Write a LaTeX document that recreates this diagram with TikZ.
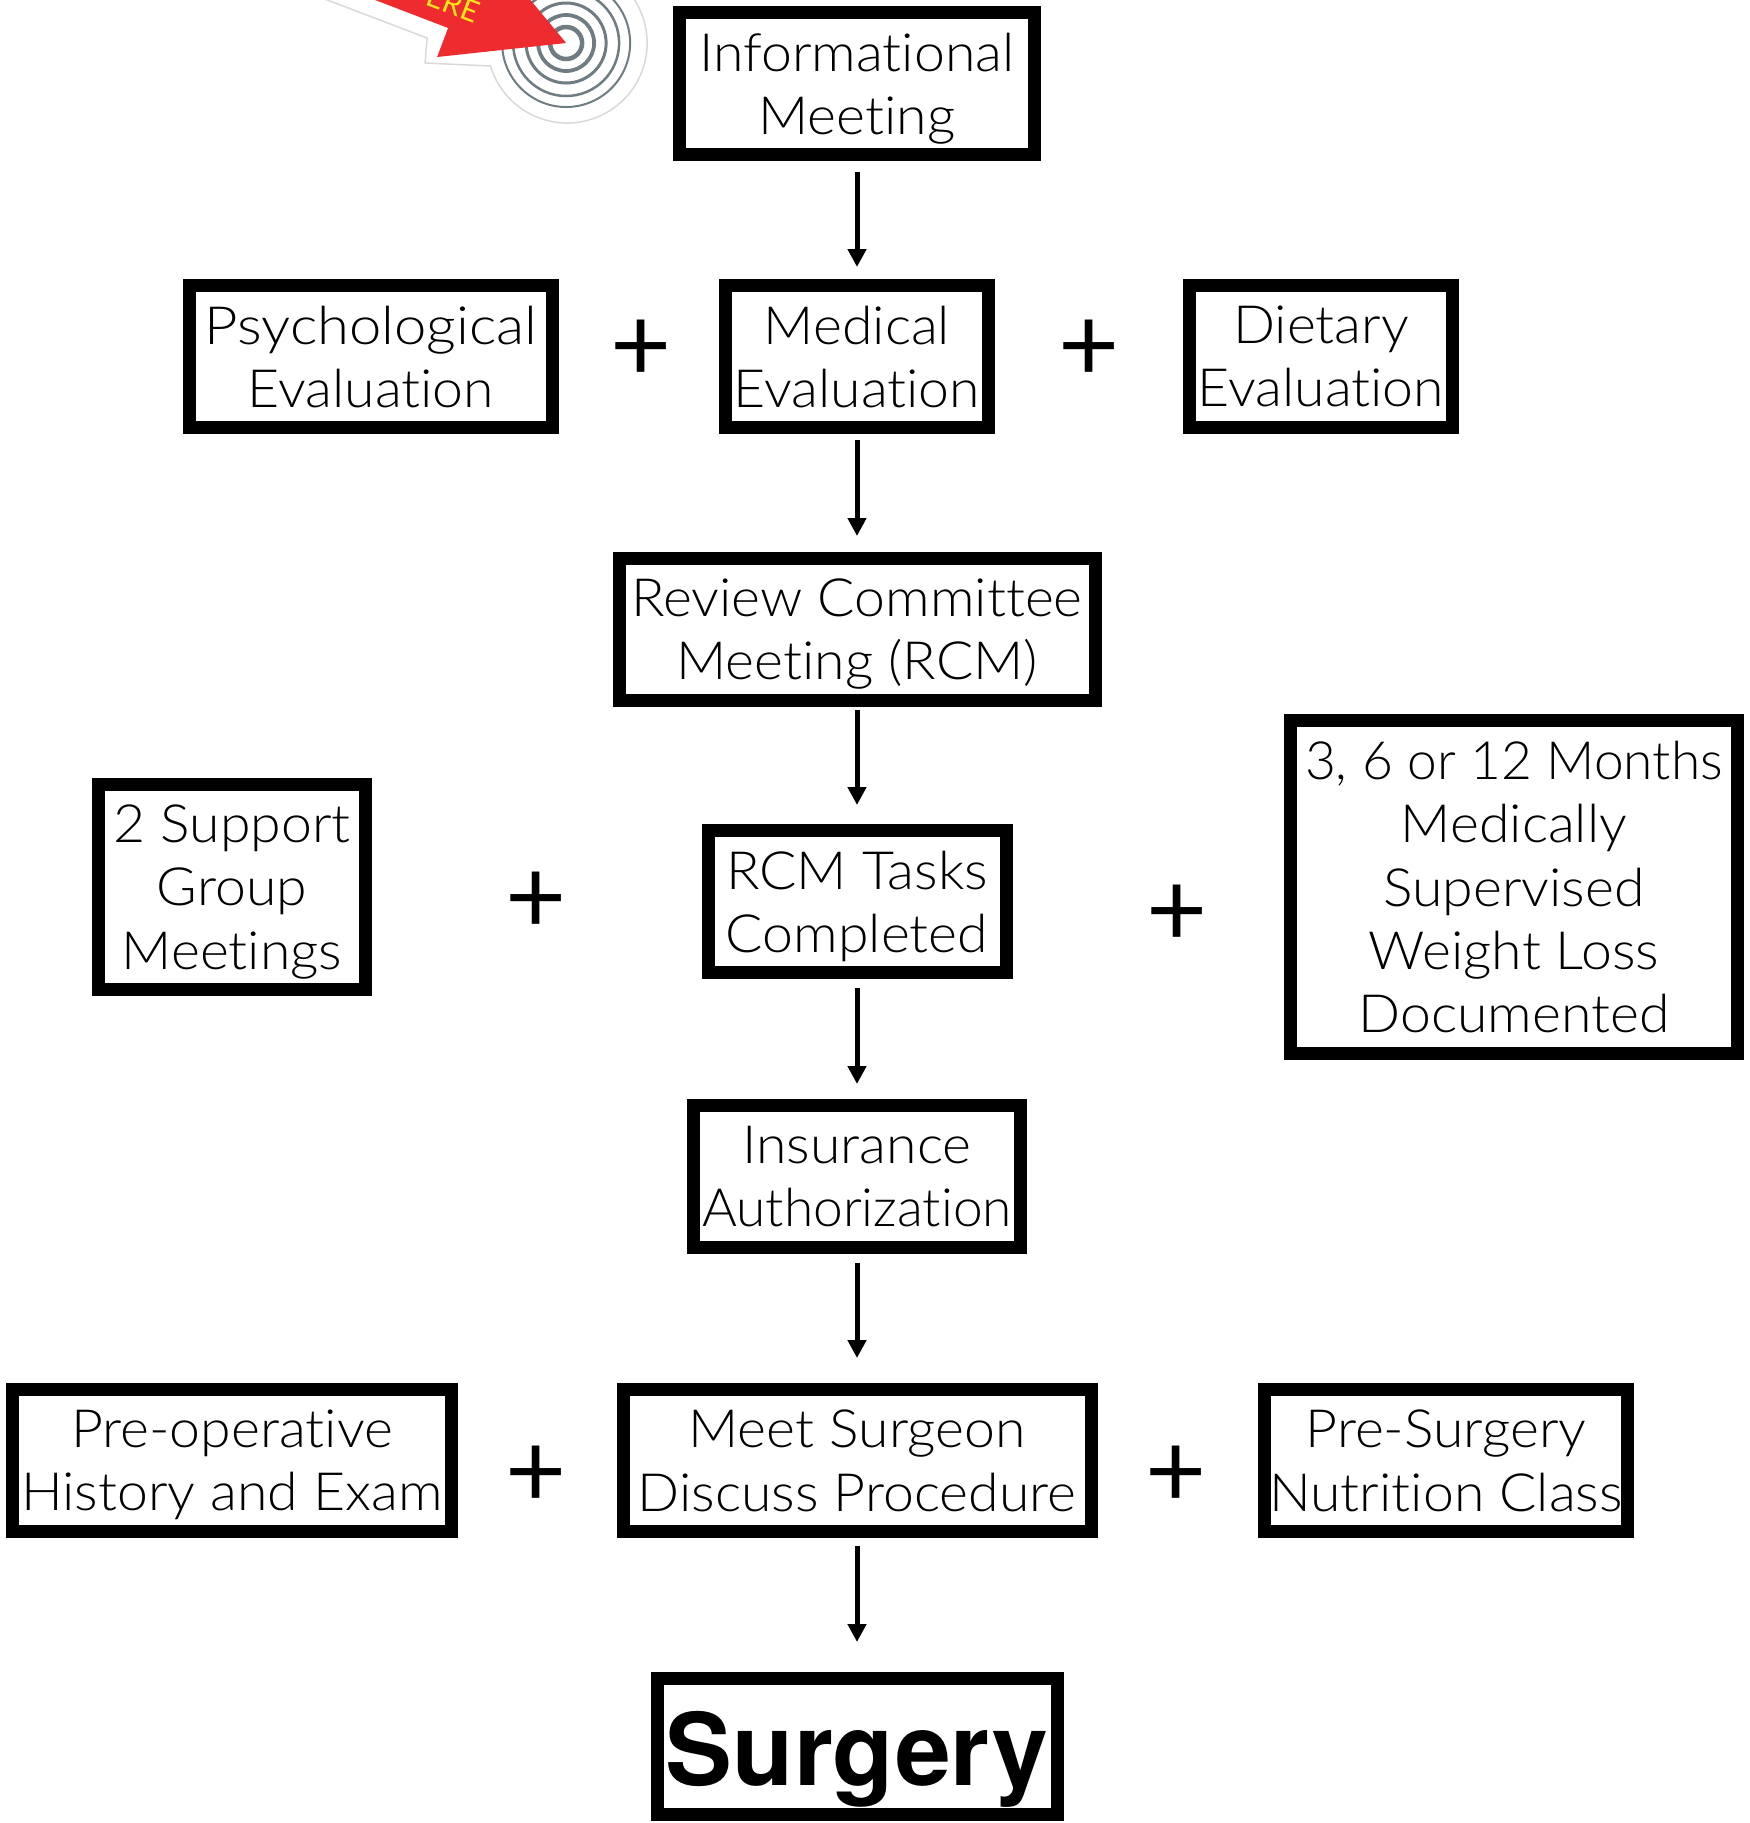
\documentclass[tikz,border=0pt]{standalone}
\usepackage{fontspec}
\setmainfont{Lato Light}[FakeStretch=1.05, Ligatures=NoCommon]
\newfontfamily\narrowfont{Lato Light}[FakeStretch=1.01, Ligatures=NoCommon]
\newfontfamily\widefont{Lato Light}[FakeStretch=1.1, Ligatures=NoCommon]
\newfontfamily\boldfont{TeX Gyre Heros Bold}
\newfontfamily\plusfont{Lato}
\usetikzlibrary{positioning, arrows.meta}
\definecolor{ringgray}{HTML}{6F7C82}
\definecolor{stickerred}{HTML}{EE2B2E}
\definecolor{stickeryellow}{HTML}{FFE81A}
\tikzset{
	boxnode/.style={draw, line width=0.26cm, inner sep=0pt, minimum height=2.84cm, align=center, text depth=0pt, font=\fontsize{30}{36}\selectfont},
	plusnode/.style={inner sep=0pt, yshift=-0.09cm, font=\plusfont\fontsize{60}{60}\selectfont},
}

\begin{document}
\begin{tikzpicture}[node distance=5.46cm, on grid, >={Triangle[width=0.36cm, length=0.36cm]}]
				\useasboundingbox (0,0) rectangle (34.98,-36.46);
				% sticker, in pixels of the page
				\begin{scope}[x=0.02cm, y=0.02cm]
					\clip (0,0) rectangle (1749,-1823);
					\filldraw[fill=white, draw=black!15, line width=0.03cm, line join=round] (301,10) -- (427,-38) -- (425,-63) -- (490.4,-66) arc[start angle=196.7, end angle=400, radius=80] -- cycle;
					\foreach \ringr/\ringw in {16/0.09, 28/0.075, 40/0.06, 53/0.05, 64/0.04}
						\draw[ringgray, line width=\ringw cm] (566,-43) circle[radius=\ringr];
					\fill[stickerred] (566,-43) -- (437,-57) -- (448,-28) -- (349,10) -- (522,10) -- cycle;
					\node[rotate=-21, text=stickeryellow, font=\plusfont\fontsize{17}{17}\selectfont] (sticker_text) at (453,-4) {ERE};
				\end{scope}
				% middle column
				\node[boxnode, minimum width=7.10cm] (info) at (17.14,-1.67) {Informational\\Meeting};
				\node[boxnode, minimum width=5.26cm] (medical) [below=of info] {Medical\\Evaluation};
				\node[boxnode, minimum width=9.52cm] (review) [below=of medical] {Review Committee\\Meeting (RCM)};
				\node[boxnode, minimum width=5.96cm] (tasks) [below=5.44cm of review] {RCM Tasks\\Completed};
				\node[boxnode, minimum width=6.54cm] (insurance) [below=5.5cm of tasks] {Insurance\\{\narrowfont Authorization}};
				\node[boxnode, minimum width=9.36cm] (surgeon) [below=5.68cm of insurance] {Meet Surgeon\\Discuss Procedure};
				\node[boxnode, minimum width=8cm, minimum height=2.72cm, text height=44pt, font=\boldfont\fontsize{57}{57}\selectfont] (surgery) [below=5.72cm of surgeon] {Surgery};
				% side boxes
				\node[boxnode, minimum width=7.26cm] (psych) [left=9.72cm of medical] {{\widefont Psychological}\\Evaluation};
				\node[boxnode, minimum width=5.25cm] (dietary) [right=9.28cm of medical] {Dietary\\Evaluation};
				\node[boxnode, minimum width=5.34cm, minimum height=4.1cm] (support) [above left=0.29cm and 12.5cm of tasks] {2 Support\\Group\\Meetings};
				\node[boxnode, minimum width=8.94cm, minimum height=6.66cm] (months) [above right=0.29cm and 13.14cm of tasks] {{\narrowfont 3, 6 or 12 Months}\\Medically\\Supervised\\Weight Loss\\Documented};
				\node[boxnode, minimum width=8.78cm] (preop) [left=12.5cm of surgeon] {Pre-operative\\History and Exam};
				\node[boxnode, minimum width=7.26cm] (nutrition) [right=11.78cm of surgeon] {Pre-Surgery\\Nutrition Class};
				% plus signs
				\node[plusnode] (plus_a) [above left=0.21cm and 4.32cm of medical] {+};
				\node[plusnode] (plus_b) [above right=0.21cm and 4.64cm of medical] {+};
				\node[plusnode] (plus_c) [above left=0.07cm and 6.42cm of tasks] {+};
				\node[plusnode] (plus_d) [below right=0.19cm and 6.4cm of tasks] {+};
				\node[plusnode] (plus_e) [below left=0.23cm and 6.42cm of surgeon] {+};
				\node[plusnode] (plus_f) [below right=0.23cm and 6.38cm of surgeon] {+};
				\path[->, line width=0.1cm]
				(info) edge[shorten <=0.22cm, shorten >=0.24cm] (medical)
				(medical) edge[shorten <=0.12cm, shorten >=0.32cm] (review)
				(review) edge[shorten <=0.06cm, shorten >=0.38cm] (tasks)
				(tasks) edge[shorten <=0.18cm, shorten >=0.3cm] (insurance)
				(insurance) edge[shorten <=0.18cm, shorten >=0.5cm] (surgeon)
				(surgeon) edge[shorten <=0.16cm, shorten >=0.6cm] (surgery);
			\end{tikzpicture}
\end{document}
